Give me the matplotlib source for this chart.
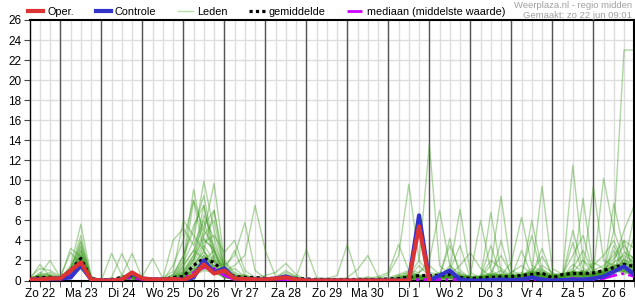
import numpy as np
import matplotlib.pyplot as plt
from matplotlib.lines import Line2D

plt.rcParams['font.family'] = ['Liberation Sans', 'DejaVu Sans']

# === Data (neerslag in mm per 6 uur, eerste punt = zo 22 06:00) ===
stap = 0.25  # 6 uur in dagen
dagen = ['Zo 22', 'Ma 23', 'Di 24', 'Wo 25', 'Do 26', 'Vr 27', 'Za 28', 'Zo 29',
         'Ma 30', 'Di 1', 'Wo 2', 'Do 3', 'Vr 4', 'Za 5', 'Zo 6']

# per dag 4 waarden: 06, 12, 18, 00 (volgende dag)
oper = [0.1, 0.1, 0.2, 0.2,  1.0, 1.8, 0.1, 0.0,  0.0, 0.1, 0.8, 0.2,  0.1, 0.1, 0.15, 0.05,
        0.5, 1.6, 0.7, 1.0,  0.2, 0.15, 0.1, 0.1,  0.2, 0.3, 0.1, 0.0,  0.0, 0.0, 0.0, 0.0,
        0.0, 0.0, 0.0, 0.0,  0.0, 0.0, 5.4, 0.0]

controle = [0.1, 0.1, 0.15, 0.2,  0.3, 1.5, 0.1, 0.0,  0.0, 0.1, 0.7, 0.2,  0.1, 0.1, 0.1, 0.05,
            0.3, 2.0, 0.8, 1.2,  0.2, 0.1, 0.1, 0.1,  0.2, 0.4, 0.1, 0.0,  0.0, 0.0, 0.0, 0.0,
            0.0, 0.0, 0.0, 0.0,  0.0, 0.0, 6.5, 0.0,  0.5, 1.0, 0.1, 0.0,  0.0, 0.05, 0.1, 0.05,
            0.1, 0.3, 0.1, 0.0,  0.05, 0.1, 0.1, 0.2,  0.4, 0.9, 1.4, 0.6]

gemiddelde = [0.15, 0.3, 0.3, 0.2,  1.0, 2.2, 0.15, 0.05,  0.1, 0.3, 0.5, 0.15,  0.15, 0.1, 0.3, 0.4,
              1.5, 2.2, 1.8, 0.8,  0.4, 0.3, 0.3, 0.2,  0.2, 0.3, 0.2, 0.15,  0.1, 0.1, 0.1, 0.1,
              0.1, 0.1, 0.1, 0.15,  0.2, 0.33, 0.5, 0.5,  0.5, 0.6, 0.3, 0.2,  0.25, 0.3, 0.35, 0.4,
              0.5, 0.6, 0.75, 0.25,  0.6, 0.7, 0.7, 0.75,  1.0, 1.3, 1.6, 1.4]

mediaan = [0.1, 0.1, 0.1, 0.1,  0.5, 1.5, 0.1, 0.0,  0.0, 0.1, 0.3, 0.1,  0.0, 0.0, 0.1, 0.2,
           0.8, 1.3, 1.2, 0.5,  0.1, 0.1, 0.0, 0.0,  0.1, 0.1, 0.0, 0.0,  0.0, 0.0, 0.0, 0.0,
           0.0, 0.0, 0.0, 0.0,  0.0, 0.05, 0.1, 0.1,  0.1, 0.1, 0.1, 0.0,  0.0, 0.0, 0.0, 0.0,
           0.1, 0.1, 0.1, 0.0,  0.1, 0.2, 0.1, 0.1,  0.2, 0.5, 0.7, 0.4]

leden = [
    [0.1, 1.6, 0.4, 0.2, 0.8, 2.2, 0.2, 0.0, 0.0, 0.1, 0.5, 0.1, 0.0, 0.1, 0.6, 2.4, 5.0, 8.5, 3.0, 0.6, 0.2, 0.3, 0.1, 0.0, 0.2, 0.5, 0.1, 0.0, 0.0, 0.0, 0.0, 0.0, 0.0, 0.1, 0.0, 0.0, 0.2, 0.9, 0.4, 0.1, 0.3, 1.2, 7.1, 0.8, 0.2, 0.5, 1.0, 0.3, 0.1, 0.6, 1.2, 0.4, 0.2, 0.8, 0.5, 1.5, 2.5, 4.0, 1.5, 0.8],
    [0.2, 0.6, 2.0, 0.3, 0.5, 3.5, 0.1, 0.0, 0.1, 0.3, 0.9, 0.2, 0.1, 0.0, 0.2, 0.8, 2.1, 4.5, 6.0, 1.2, 0.4, 0.2, 0.1, 0.1, 0.3, 1.0, 0.4, 0.0, 0.0, 0.1, 0.0, 0.0, 0.0, 0.0, 0.3, 0.0, 0.5, 0.3, 1.5, 0.4, 0.8, 0.3, 0.2, 0.1, 0.4, 2.0, 1.2, 0.5, 0.3, 0.8, 2.4, 0.6, 0.5, 1.2, 3.0, 0.8, 1.0, 2.2, 3.5, 2.0],
    [0.0, 0.8, 0.5, 0.2, 3.2, 2.4, 0.3, 0.0, 0.0, 0.0, 0.2, 0.0, 0.0, 0.0, 0.3, 1.5, 3.0, 2.2, 1.5, 0.4, 0.2, 0.1, 0.0, 0.0, 0.0, 0.2, 0.1, 0.0, 0.0, 0.0, 0.0, 0.0, 0.0, 0.0, 0.0, 0.0, 0.1, 0.0, 0.5, 0.2, 0.1, 0.3, 0.8, 0.2, 0.0, 0.5, 0.3, 0.8, 1.5, 0.6, 0.3, 0.0, 0.2, 0.9, 0.6, 1.8, 1.2, 0.6, 2.2, 1.5],
    [0.3, 1.2, 1.0, 0.4, 2.8, 1.6, 0.2, 0.0, 0.0, 0.4, 0.6, 0.1, 0.0, 0.0, 0.1, 0.5, 1.2, 3.5, 2.0, 0.3, 0.1, 0.0, 0.0, 0.0, 0.1, 0.3, 0.2, 0.0, 0.0, 0.2, 0.0, 0.0, 0.0, 0.0, 0.0, 0.0, 0.0, 0.2, 0.1, 0.0, 0.2, 1.5, 0.4, 0.0, 0.1, 0.2, 0.6, 0.2, 0.3, 1.0, 0.5, 0.2, 0.1, 0.3, 1.0, 0.6, 0.8, 1.5, 0.9, 4.5],
    [0.1, 0.3, 0.2, 0.1, 1.5, 5.6, 0.4, 0.0, 0.0, 0.2, 0.4, 0.0, 0.0, 0.1, 0.2, 0.3, 0.5, 1.2, 2.5, 0.8, 0.3, 0.5, 0.2, 0.0, 0.0, 0.1, 0.0, 0.0, 0.0, 0.0, 0.0, 0.0, 0.0, 0.0, 0.1, 0.0, 0.0, 0.0, 0.3, 0.6, 0.4, 0.2, 0.1, 0.0, 0.0, 0.1, 0.0, 0.2, 0.6, 0.3, 0.8, 0.2, 0.4, 1.6, 0.8, 0.3, 0.5, 1.0, 1.8, 0.9],
    [0.2, 0.5, 0.6, 0.3, 1.2, 4.5, 0.3, 0.0, 0.0, 0.0, 0.3, 0.1, 0.0, 0.0, 1.5, 4.0, 8.0, 5.0, 3.5, 1.5, 0.5, 0.2, 0.0, 0.0, 0.1, 0.0, 0.0, 0.0, 0.0, 0.0, 0.0, 0.0, 0.0, 0.0, 0.0, 0.0, 0.3, 0.5, 0.2, 0.0, 0.1, 0.6, 1.5, 2.8, 1.2, 0.4, 0.2, 0.1, 0.2, 0.5, 1.5, 0.8, 0.3, 0.5, 0.4, 1.0, 1.5, 2.5, 4.0, 3.2],
    [0.1, 0.2, 0.4, 0.2, 1.0, 4.0, 0.2, 0.0, 0.0, 0.2, 0.6, 0.0, 0.0, 0.0, 0.0, 0.4, 2.0, 6.5, 4.2, 0.9, 1.2, 0.4, 0.2, 0.0, 0.0, 0.0, 0.1, 0.0, 0.0, 0.0, 0.0, 0.0, 0.0, 0.0, 0.0, 0.0, 0.0, 0.1, 0.4, 0.3, 0.1, 0.0, 0.2, 0.5, 6.0, 1.0, 0.4, 0.2, 0.2, 0.3, 0.5, 0.4, 0.3, 0.8, 2.0, 1.2, 0.6, 3.0, 1.0, 0.5],
    [0.0, 0.4, 0.3, 0.1, 0.6, 3.0, 0.1, 0.0, 2.7, 0.5, 0.2, 0.0, 0.0, 0.0, 0.1, 0.6, 1.5, 3.0, 7.0, 1.8, 0.6, 0.3, 0.1, 0.0, 0.2, 0.4, 0.1, 0.0, 0.0, 0.0, 0.0, 0.0, 0.0, 0.0, 0.0, 0.0, 0.2, 0.4, 0.6, 0.3, 0.5, 3.5, 1.0, 0.3, 0.2, 6.8, 0.9, 0.3, 0.4, 0.8, 0.5, 0.2, 0.5, 0.6, 1.0, 0.4, 1.2, 1.8, 2.5, 1.8],
    [0.2, 0.6, 0.3, 0.2, 0.9, 2.5, 0.2, 0.0, 0.3, 2.7, 0.5, 0.1, 0.0, 0.1, 0.0, 0.2, 0.8, 2.5, 1.4, 0.5, 0.2, 0.1, 0.0, 0.0, 0.1, 0.6, 0.3, 0.0, 0.0, 0.0, 0.0, 0.0, 0.0, 0.4, 0.0, 0.0, 0.1, 0.0, 0.2, 0.1, 0.0, 0.2, 0.1, 0.0, 0.3, 1.5, 8.4, 1.0, 0.5, 1.2, 0.6, 0.3, 0.2, 0.4, 0.3, 0.6, 0.9, 1.6, 1.2, 2.5],
    [0.1, 0.3, 0.5, 0.2, 0.7, 2.0, 0.3, 0.0, 0.0, 0.5, 2.7, 0.2, 0.0, 0.0, 0.3, 1.0, 2.5, 7.5, 2.8, 0.7, 0.3, 0.6, 0.2, 0.0, 0.3, 0.8, 0.4, 0.0, 0.0, 0.1, 0.0, 0.0, 0.0, 0.0, 0.0, 0.0, 0.0, 0.3, 0.8, 1.5, 0.6, 0.3, 0.2, 0.1, 0.1, 0.3, 0.5, 1.8, 6.3, 1.5, 0.8, 0.3, 0.4, 0.5, 0.9, 0.5, 0.7, 1.2, 0.6, 1.0],
    [0.0, 0.2, 0.2, 0.1, 0.5, 1.8, 0.1, 0.0, 0.0, 0.1, 0.3, 0.4, 2.2, 0.2, 0.1, 0.5, 1.0, 2.0, 3.0, 0.6, 0.1, 0.0, 0.0, 0.0, 0.0, 0.3, 0.1, 0.0, 0.0, 0.0, 0.0, 0.0, 0.0, 0.0, 0.0, 0.0, 0.3, 0.6, 0.4, 0.2, 0.2, 0.5, 0.3, 0.1, 0.3, 0.6, 0.4, 0.2, 0.3, 6.0, 1.0, 0.3, 0.4, 1.0, 0.7, 0.3, 0.5, 0.8, 1.8, 1.2],
    [0.2, 0.5, 0.8, 0.3, 1.3, 3.3, 0.3, 0.0, 0.0, 0.2, 0.4, 0.0, 0.0, 0.2, 4.0, 5.2, 3.5, 6.0, 2.2, 0.8, 0.4, 0.2, 0.1, 0.0, 0.1, 0.2, 0.1, 0.0, 0.0, 0.0, 0.0, 0.0, 0.0, 0.0, 0.0, 0.0, 0.1, 0.2, 0.5, 0.3, 0.3, 0.6, 0.4, 0.2, 0.2, 0.4, 0.6, 0.4, 0.5, 0.8, 9.4, 1.2, 0.6, 0.8, 0.5, 0.4, 0.8, 1.4, 2.0, 1.5],
    [0.1, 0.4, 0.3, 0.1, 0.8, 2.8, 0.2, 0.0, 0.0, 0.1, 0.3, 0.1, 0.1, 0.3, 0.9, 6.0, 4.5, 3.0, 1.2, 0.4, 0.2, 0.1, 0.0, 0.0, 0.0, 0.1, 0.0, 0.0, 0.0, 0.0, 0.0, 0.0, 0.0, 0.0, 0.0, 0.0, 0.0, 0.1, 0.3, 0.5, 0.4, 0.3, 0.6, 0.4, 0.2, 0.3, 0.2, 0.6, 0.8, 0.4, 0.3, 0.5, 0.6, 11.5, 2.0, 0.6, 0.8, 1.0, 1.5, 1.0],
    [0.2, 0.3, 0.5, 0.2, 1.1, 3.8, 0.4, 0.0, 0.0, 0.3, 0.7, 0.1, 0.0, 0.0, 0.5, 2.0, 9.1, 4.0, 3.2, 1.0, 0.5, 0.3, 0.1, 0.0, 0.2, 0.3, 0.2, 0.0, 0.0, 0.0, 0.0, 0.0, 0.0, 0.2, 0.0, 0.0, 0.2, 0.4, 0.3, 0.2, 0.4, 1.0, 3.5, 0.2, 0.3, 0.5, 0.3, 0.4, 0.6, 0.9, 0.4, 0.3, 0.5, 0.7, 8.2, 1.0, 0.6, 0.9, 1.2, 0.8],
    [0.1, 0.2, 0.1, 0.1, 0.6, 1.5, 0.1, 0.0, 0.0, 0.2, 0.4, 0.0, 0.0, 0.1, 0.2, 1.2, 8.0, 3.0, 1.0, 0.3, 0.2, 0.1, 0.0, 0.0, 0.1, 0.2, 0.0, 0.0, 0.0, 0.0, 0.0, 0.0, 0.0, 0.0, 0.0, 0.0, 0.1, 0.2, 0.1, 0.1, 0.2, 0.5, 0.3, 0.1, 0.2, 0.8, 2.5, 0.6, 0.3, 0.5, 1.0, 0.6, 0.4, 0.6, 0.8, 9.4, 2.0, 1.5, 1.0, 0.8],
    [0.0, 0.3, 0.4, 0.1, 0.9, 2.2, 0.2, 0.0, 0.0, 0.1, 0.2, 0.0, 0.0, 0.0, 0.4, 1.8, 4.0, 9.9, 5.0, 1.2, 0.6, 0.3, 0.1, 0.0, 0.1, 0.2, 0.1, 0.0, 0.0, 0.0, 0.0, 0.0, 0.0, 0.0, 0.0, 0.0, 0.1, 0.3, 0.2, 0.1, 0.2, 0.4, 0.3, 0.2, 0.3, 0.4, 0.3, 0.2, 0.4, 0.6, 0.5, 0.3, 0.3, 0.5, 0.6, 0.8, 10.2, 5.0, 2.0, 1.2],
    [0.1, 0.4, 0.2, 0.1, 0.7, 2.6, 0.2, 0.0, 0.0, 0.2, 0.5, 0.1, 0.0, 0.1, 0.6, 2.5, 5.5, 7.5, 2.0, 0.5, 0.2, 0.1, 0.0, 0.0, 0.0, 0.2, 0.1, 0.0, 0.0, 0.0, 0.0, 0.0, 0.0, 0.0, 0.0, 0.0, 0.0, 0.2, 0.4, 0.3, 0.3, 0.2, 0.4, 0.3, 0.2, 0.3, 0.2, 0.3, 0.4, 0.3, 0.6, 0.4, 0.5, 0.9, 0.6, 0.5, 0.6, 7.7, 3.0, 1.5],
    [0.2, 0.3, 0.3, 0.2, 1.0, 3.0, 0.3, 0.0, 0.0, 0.1, 0.4, 0.0, 0.0, 0.0, 0.2, 0.9, 2.5, 4.8, 9.7, 2.0, 0.8, 0.4, 0.2, 0.0, 0.2, 0.3, 0.1, 0.0, 0.0, 0.0, 0.0, 0.0, 0.0, 0.0, 0.0, 0.0, 0.2, 0.3, 0.2, 0.1, 0.3, 0.4, 0.2, 0.1, 0.2, 0.3, 0.5, 0.3, 0.2, 0.5, 0.4, 0.3, 0.4, 0.6, 0.5, 0.7, 0.9, 1.8, 5.0, 7.5],
    [0.1, 0.2, 0.3, 0.1, 0.5, 2.0, 0.1, 0.0, 0.0, 0.0, 0.2, 0.0, 0.0, 0.0, 0.3, 1.4, 3.0, 5.5, 7.0, 1.0, 3.0, 0.5, 0.2, 0.0, 0.1, 0.3, 0.1, 0.0, 0.0, 0.0, 0.0, 0.0, 0.0, 0.0, 0.0, 0.0, 0.1, 0.4, 0.2, 0.1, 0.2, 0.3, 0.5, 0.2, 0.4, 0.2, 4.0, 0.2, 0.5, 0.4, 0.3, 0.2, 0.3, 0.4, 0.3, 0.4, 0.5, 1.2, 2.8, 2.2],
    [0.1, 0.3, 0.2, 0.1, 0.8, 2.4, 0.2, 0.0, 0.0, 0.2, 0.3, 0.0, 0.0, 0.1, 0.3, 0.7, 1.8, 3.8, 4.5, 2.8, 4.0, 1.0, 0.3, 0.1, 0.2, 0.4, 0.2, 0.0, 0.0, 0.0, 0.0, 0.0, 0.0, 0.0, 0.0, 0.0, 0.1, 0.2, 0.1, 0.1, 0.2, 0.3, 0.2, 0.1, 0.2, 0.3, 0.4, 0.3, 3.0, 0.5, 0.3, 0.2, 0.3, 0.5, 0.4, 0.6, 0.7, 1.0, 1.5, 6.5],
    [0.1, 0.2, 0.2, 0.1, 0.6, 1.2, 0.1, 0.0, 0.0, 0.1, 0.2, 0.0, 0.0, 0.0, 0.2, 0.6, 1.5, 2.8, 2.0, 1.5, 2.5, 5.8, 1.0, 0.2, 0.1, 0.2, 0.1, 0.0, 0.0, 0.0, 0.0, 0.0, 0.0, 0.0, 0.0, 0.0, 0.2, 0.3, 0.2, 0.1, 0.2, 0.4, 0.3, 0.2, 0.3, 3.5, 0.3, 0.2, 0.3, 0.4, 0.3, 0.2, 0.2, 0.3, 0.4, 0.3, 0.5, 0.8, 4.0, 0.7],
    [0.1, 0.3, 0.2, 0.1, 0.8, 1.8, 0.2, 0.0, 0.0, 0.2, 0.3, 0.0, 0.0, 0.1, 0.3, 0.8, 2.2, 4.2, 3.0, 1.0, 1.5, 2.5, 7.5, 3.0, 0.4, 0.2, 0.1, 0.0, 0.0, 0.0, 0.0, 0.0, 0.0, 0.0, 0.0, 0.0, 0.2, 0.5, 0.3, 0.2, 0.3, 0.5, 0.3, 0.2, 0.2, 0.3, 0.2, 0.3, 0.5, 0.6, 0.4, 0.3, 0.4, 5.0, 1.2, 0.8, 1.0, 1.4, 0.8, 0.6],
    [0.2, 0.4, 0.3, 0.2, 0.9, 2.0, 0.3, 0.0, 0.0, 0.1, 0.3, 0.0, 0.0, 0.0, 0.1, 0.4, 1.0, 2.0, 1.5, 0.5, 0.3, 0.2, 0.3, 0.5, 0.8, 1.7, 0.6, 0.1, 0.0, 0.0, 0.0, 0.0, 0.0, 0.0, 0.0, 0.0, 0.3, 0.6, 0.3, 0.2, 0.3, 0.5, 0.4, 0.3, 0.3, 0.5, 0.3, 0.4, 0.6, 4.5, 0.4, 0.5, 0.5, 0.8, 0.6, 0.5, 0.8, 1.2, 0.9, 0.7],
    [0.0, 0.2, 0.1, 0.1, 0.4, 1.5, 0.1, 0.0, 0.0, 0.1, 0.2, 0.0, 0.0, 0.0, 0.2, 0.5, 1.2, 2.5, 1.8, 0.6, 0.3, 0.2, 0.1, 0.1, 0.2, 0.5, 0.3, 3.1, 0.3, 0.2, 0.1, 0.0, 0.0, 0.0, 0.0, 0.0, 0.1, 0.2, 0.3, 0.2, 0.2, 0.3, 0.2, 0.1, 0.2, 0.5, 0.4, 0.3, 0.4, 0.6, 0.5, 0.4, 0.4, 3.8, 0.6, 0.7, 0.6, 3.5, 1.4, 1.2],
    [0.1, 0.3, 0.2, 0.1, 0.7, 2.2, 0.2, 0.0, 0.0, 0.2, 0.3, 0.0, 0.0, 0.1, 0.2, 0.4, 0.8, 1.5, 1.2, 0.4, 0.2, 0.1, 0.1, 0.0, 0.1, 0.2, 0.1, 0.0, 0.0, 0.2, 0.5, 3.6, 0.3, 0.2, 0.1, 0.0, 0.2, 0.4, 0.3, 0.2, 0.3, 4.2, 0.4, 0.2, 0.3, 0.4, 0.3, 0.2, 0.3, 0.5, 0.4, 0.3, 0.4, 0.5, 0.4, 0.5, 0.5, 0.8, 1.0, 0.9],
    [0.1, 0.2, 0.2, 0.1, 0.5, 1.6, 0.2, 0.0, 0.0, 0.1, 0.2, 0.0, 0.0, 0.0, 0.1, 0.3, 0.6, 1.2, 0.9, 0.3, 0.2, 0.1, 0.1, 0.0, 0.0, 0.1, 0.0, 0.0, 0.0, 0.0, 0.1, 0.3, 1.1, 2.5, 0.4, 0.1, 0.5, 0.8, 0.4, 0.3, 0.4, 0.5, 0.3, 0.2, 0.3, 0.5, 0.4, 0.3, 0.4, 0.6, 3.2, 0.4, 0.5, 0.6, 0.5, 0.6, 0.7, 1.1, 1.3, 1.0],
    [0.1, 0.3, 0.2, 0.1, 0.6, 2.0, 0.2, 0.0, 0.0, 0.2, 0.3, 0.0, 0.0, 0.0, 0.2, 0.5, 1.0, 1.8, 1.3, 0.4, 0.2, 0.2, 0.1, 0.0, 0.1, 0.2, 0.1, 0.0, 0.0, 0.0, 0.0, 0.0, 0.0, 0.2, 0.4, 0.8, 3.6, 1.0, 0.5, 0.3, 0.4, 0.6, 0.5, 0.3, 0.4, 0.6, 0.5, 0.4, 0.5, 0.7, 0.6, 0.5, 0.6, 2.5, 4.5, 0.7, 0.8, 1.3, 1.1, 0.9],
    [0.1, 0.2, 0.2, 0.1, 0.5, 1.4, 0.2, 0.0, 0.0, 0.1, 0.2, 0.0, 0.0, 0.0, 0.1, 0.3, 0.7, 1.4, 1.0, 0.3, 0.2, 0.1, 0.1, 0.0, 0.1, 0.1, 0.0, 0.0, 0.0, 0.0, 0.0, 0.0, 0.0, 0.0, 0.2, 0.6, 2.5, 9.6, 2.0, 0.8, 0.6, 0.5, 0.4, 0.3, 0.4, 0.5, 0.6, 0.5, 0.6, 0.8, 0.7, 0.5, 0.6, 0.8, 0.7, 0.6, 0.7, 1.0, 0.9, 0.8],
    [0.1, 0.2, 0.1, 0.1, 0.4, 1.2, 0.1, 0.0, 0.0, 0.1, 0.2, 0.0, 0.0, 0.0, 0.1, 0.2, 0.5, 1.0, 0.8, 0.3, 0.2, 0.1, 0.1, 0.0, 0.0, 0.1, 0.0, 0.0, 0.0, 0.0, 0.0, 0.0, 0.0, 0.0, 0.0, 0.1, 0.3, 0.5, 2.0, 13.6, 1.5, 0.6, 0.4, 0.3, 0.4, 0.5, 0.4, 0.3, 0.5, 0.6, 0.5, 0.4, 0.5, 0.6, 0.6, 0.5, 0.7, 5.0, 23.0, 23.0],
    [0.1, 0.2, 0.2, 0.1, 0.5, 1.7, 0.2, 0.0, 0.0, 0.2, 0.3, 0.0, 0.0, 0.0, 0.2, 0.4, 0.9, 1.6, 1.1, 0.4, 0.2, 0.1, 0.1, 0.0, 0.1, 0.2, 0.1, 0.0, 0.0, 0.0, 0.0, 0.0, 0.0, 0.0, 0.1, 0.3, 0.6, 1.0, 0.8, 2.0, 7.0, 1.5, 0.6, 0.4, 0.5, 0.7, 0.6, 0.5, 0.6, 0.9, 0.7, 0.6, 0.7, 0.9, 0.8, 0.7, 0.9, 1.4, 1.8, 1.2],
]

t = np.arange(1, len(controle) + 1) * stap
t_oper = t[:len(oper)]

# === Figuur ===
fig = plt.figure(figsize=(6.35, 3.0), dpi=100)
ax = fig.add_axes([29.6 / 635, 19.5 / 300, 604.7 / 635, 260.5 / 300])

# rasterlijnen: lichtgrijs per 6 uur, donker om middernacht
for x in np.arange(0.5, 15, stap):
    ax.axvline(x, color='#dddddd', lw=1, zorder=0)
for d in range(1, 15):
    ax.axvline(d, color='#555555', lw=1, zorder=1)
for y in range(2, 26, 2):
    ax.axhline(y, color='#dddddd', lw=1, zorder=0)

for lid in leden:
    ax.plot(t, lid, color='#3a9a1a', alpha=0.4, lw=1.0, zorder=2)

ax.plot(t, gemiddelde, color='black', lw=2.3, ls=(0, (1, 1)), zorder=3)
ax.plot(t, mediaan, color='#cc00ff', lw=2, ls='-.', zorder=4)
ax.plot(t, controle, color='#3333cc', lw=3, zorder=5)
ax.plot(t_oper, oper, color='#dd3333', lw=3, zorder=6)

ax.set_xlim(0.25, 15)
ax.set_ylim(0, 26)
ax.set_yticks(range(0, 27, 2))
ax.set_xticks(np.arange(len(dagen)) + 0.5)
ax.set_xticklabels(dagen)
ax.set_xticks(np.arange(0.25, 15.01, stap), minor=True)
ax.tick_params(axis='both', which='both', labelsize=8.5, length=4, color='#444444', pad=1.5)
ax.tick_params(axis='y', pad=2)
for s in ax.spines.values():
    s.set_color('black')
    s.set_linewidth(1.5)
ax.spines['left'].set_linewidth(1)

# legenda boven de grafiek
handles = [
    Line2D([], [], color='#dd3333', lw=3),
    Line2D([], [], color='#3333cc', lw=3),
    Line2D([], [], color='#b8dca8', lw=1),
    Line2D([], [], color='black', lw=2.3, ls=(0, (1, 1))),
    Line2D([], [], color='#cc00ff', lw=2, ls='-.'),
]
labels = ['Oper.', 'Controle', 'Leden', 'gemiddelde', 'mediaan (middelste waarde)']
fig.legend(handles, labels, ncol=5, loc='center left', bbox_to_anchor=(28 / 635, 1 - 12 / 300),
           frameon=False, fontsize=7.8, handlelength=1.4, handletextpad=0.38,
           columnspacing=2.0, borderpad=0, borderaxespad=0)

fig.text(632 / 635, 1 - 5 / 300, 'Weerplaza.nl - regio midden', ha='right', va='center',
         fontsize=6.8, color='#a0a0a0')
fig.text(632 / 635, 1 - 15 / 300, 'Gemaakt: zo 22 jun 09:01', ha='right', va='center',
         fontsize=6.8, color='#a0a0a0')

fig.savefig('out.png', dpi=100)
